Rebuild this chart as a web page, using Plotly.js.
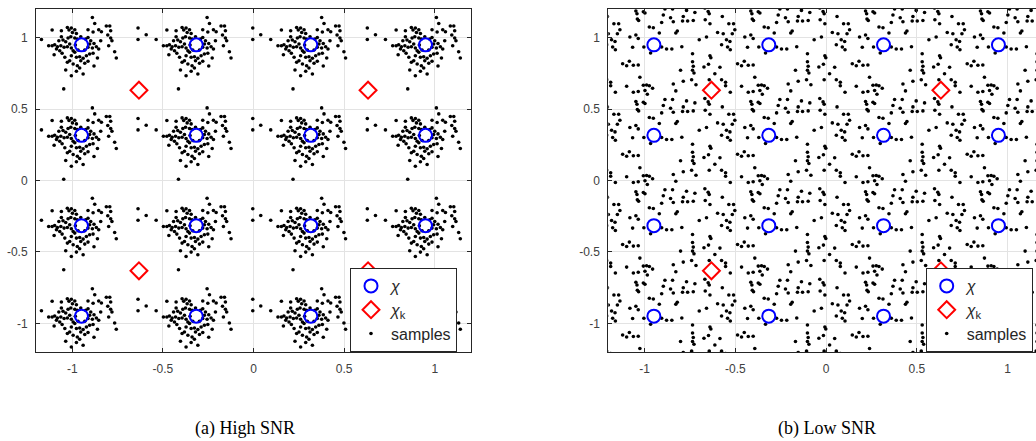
<!DOCTYPE html>
<html>
<head>
<meta charset="utf-8">
<script src="https://cdn.plot.ly/plotly-3.0.1.min.js"></script>
<style>
html,body{margin:0;padding:0;overflow:hidden;background:#fff;}
#chart{width:1044px;height:441px;}
</style>
</head>
<body>
<div id="chart"></div>
<script>
// 16-QAM constellation levels (chi) and the 4-point set levels (chi_k)
const chiLevels = [-0.949, -0.316, 0.316, 0.949];
const chiKLevels = [-0.632, 0.632];

// High SNR: received-sample offsets around each constellation point (read from one cluster)
const hiDx = [-0.098,0.060,0.073,-0.162,-0.111,-0.078,-0.069,-0.056,-0.037,-0.050,-0.028,0.036,0.064,0.095,0.110,0.137,0.156,0.161,0.145,0.161,0.168,0.312,0.312,-0.276,-0.221,-0.102,-0.087,-0.074,-0.059,-0.037,-0.023,-0.065,-0.056,-0.078,-0.096,-0.114,-0.133,-0.148,-0.162,-0.181,-0.138,-0.120,-0.151,-0.107,0.036,0.051,0.069,0.082,0.095,0.060,0.036,0.150,0.183,0.192,0.106,-0.037,-0.056,-0.028,-0.010,0.009,0.027,0.045,0.064,0.088,0.036,0.018,-0.004,-0.065,-0.046,-0.023,0.069,-0.087,-0.056,-0.028,-0.010,0.009,-0.078,-0.034,-0.019,0.018,0.045,0.023,-0.004,-0.046,-0.092,-0.125,-0.111];
const hiDy = [0.325,0.192,0.150,0.104,0.099,0.122,0.104,0.118,0.106,0.087,0.080,0.106,0.090,0.106,0.092,0.132,0.132,0.099,0.069,0.048,0.029,0.118,0.038,0.071,0.038,0.034,0.022,0.048,0.057,0.048,0.041,0.006,-0.022,-0.013,-0.017,-0.006,-0.013,0.001,-0.006,-0.006,-0.029,-0.041,-0.069,-0.059,0.052,0.029,0.010,-0.013,-0.029,-0.022,-0.017,-0.006,-0.048,-0.092,0.029,-0.052,-0.076,-0.087,-0.083,-0.094,-0.076,-0.064,-0.059,-0.092,-0.115,-0.129,-0.111,-0.111,-0.134,-0.146,-0.148,-0.176,-0.216,-0.185,-0.162,-0.204,-0.122,-0.001,-0.036,-0.036,0.006,0.041,0.057,-0.041,-0.087,0.029,0.057];

// Low SNR: received-sample offsets around each constellation point (read from one cell)
const loDx = [-0.212,-0.113,-0.086,-0.049,-0.036,0.121,-0.099,-0.093,-0.058,-0.049,0.061,0.103,0.052,0.180,0.226,0.281,0.299,0.305,-0.256,0.092,0.162,-0.220,-0.194,-0.187,-0.201,-0.091,-0.084,-0.025,-0.003,0.043,0.107,0.158,0.186,0.217,0.283,0.309,0.129,0.121,0.030,-0.282,-0.251,-0.132,-0.099,-0.086,-0.260,-0.233,-0.214,-0.227,-0.212,-0.117,-0.055,-0.018,0.043,0.070,0.099,0.154,0.250,0.290,0.309,0.213,-0.172,-0.135,-0.150,-0.113,-0.086,-0.269,-0.297,0.213,0.217,0.213,0.221,0.276,0.301,0.147,-0.077,-0.260,-0.238,-0.238,-0.150,-0.058,-0.040,-0.025,-0.007,0.107,0.162,0.208,0.232,0.305,0.314];
const loDy = [0.302,0.302,0.307,0.314,0.288,0.311,0.237,0.218,0.232,0.223,0.251,0.251,0.209,0.241,0.227,0.258,0.234,0.218,0.199,0.190,0.199,0.148,0.148,0.106,0.078,0.181,0.171,0.125,0.120,0.157,0.162,0.167,0.167,0.171,0.176,0.148,0.097,0.083,0.083,0.087,0.078,0.055,0.069,0.045,0.001,0.036,0.024,-0.015,-0.034,-0.017,-0.015,-0.057,-0.015,-0.029,-0.029,-0.013,0.036,0.055,-0.076,-0.062,-0.132,-0.115,-0.146,-0.143,-0.141,-0.157,-0.202,-0.118,-0.150,-0.178,-0.197,-0.155,-0.136,-0.178,-0.227,-0.244,-0.262,-0.286,-0.290,-0.283,-0.281,-0.286,-0.304,-0.274,-0.255,-0.244,-0.279,-0.244,-0.090];

const tickVals = [-1, -0.5, 0, 0.5, 1];
const tickText = ['-1', '-0.5', '0', '0.5', '1'];
const captions = ['(a) High SNR', '(b) Low SNR'];
const seriesNames = ['<i>\u03c7</i>', '<i>\u03c7</i><sub>k</sub>', 'samples'];

// build point sets
const chiX = [], chiY = [];
chiLevels.forEach(xv => chiLevels.forEach(yv => { chiX.push(xv); chiY.push(yv); }));
const chiKX = [], chiKY = [];
chiKLevels.forEach(xv => chiKLevels.forEach(yv => { chiKX.push(xv); chiKY.push(yv); }));
function samples(dx, dy) {
  const xs = [], ys = [];
  for (let i = 0; i < chiX.length; i++) {
    for (let j = 0; j < dx.length; j++) { xs.push(chiX[i] + dx[j]); ys.push(chiY[i] + dy[j]); }
  }
  return {xs, ys};
}
const hi = samples(hiDx, hiDy);
const lo = samples(loDx, loDy);

function makeTraces(xa, ya, lg, s) {
  return [
    {type:'scatter', mode:'markers', x:s.xs, y:s.ys, xaxis:xa, yaxis:ya, legend:lg, name:seriesNames[2], legendrank:3,
     marker:{color:'#000', size:3.6}, hoverinfo:'skip'},
    {type:'scatter', mode:'markers', x:chiX, y:chiY, xaxis:xa, yaxis:ya, legend:lg, name:seriesNames[0], legendrank:1,
     marker:{symbol:'circle-open', color:'#0000ff', size:13, line:{width:2, color:'#0000ff'}}},
    {type:'scatter', mode:'markers', x:chiKX, y:chiKY, xaxis:xa, yaxis:ya, legend:lg, name:seriesNames[1], legendrank:2,
     marker:{symbol:'diamond-open', color:'#ff0000', size:13, line:{width:2, color:'#ff0000'}}}
  ];
}

const data = [...makeTraces('x','y','legend',hi), ...makeTraces('x2','y2','legend2',lo)];

const W = 1044, H = 441;
const yDom = [(H-352)/H, (H-9)/H];
const tickFont = {family:'Liberation Sans, Arial, sans-serif', size:12, color:'#404040'};
function xAxis(dom, anchor) {
  return {domain:dom, anchor:anchor, range:[-1.2,1.2], tickvals:tickVals, ticktext:tickText,
    showgrid:true, gridcolor:'#e3e3e3', gridwidth:1, zeroline:false,
    showline:true, linecolor:'#262626', linewidth:1, mirror:'ticks',
    ticks:'inside', ticklen:4, tickcolor:'#262626', ticklabelstandoff:6,
    tickfont:tickFont, fixedrange:true};
}
function yAxis(anchor) {
  return {domain:yDom, anchor:anchor, range:[-1.2,1.2], tickvals:tickVals, ticktext:tickText,
    showgrid:true, gridcolor:'#e3e3e3', gridwidth:1, zeroline:false,
    showline:true, linecolor:'#262626', linewidth:1, mirror:'ticks',
    ticks:'inside', ticklen:4, tickcolor:'#262626', ticklabelstandoff:5,
    tickfont:tickFont, fixedrange:true};
}
function legendCfg(x) {
  return {x:x, y:(H-268)/H, xanchor:'left', yanchor:'top', bgcolor:'#ffffff', bordercolor:'#262626', borderwidth:1,
    font:{family:'Liberation Sans, Arial, sans-serif', size:16, color:'#262626'}, itemwidth:30, tracegroupgap:0};
}

const layout = {
  width:W, height:H, margin:{l:0, r:0, t:0, b:0}, paper_bgcolor:'#fff', plot_bgcolor:'#fff',
  xaxis: xAxis([36/W, 471/W], 'y'),
  yaxis: yAxis('x'),
  xaxis2: xAxis([608.3/W, 1044/W], 'y2'),
  yaxis2: yAxis('x2'),
  showlegend:true,
  legend: legendCfg(350/W),
  legend2: legendCfg(925.7/W),
  annotations: [
    {text:captions[0], x:245/W, y:(H-428)/H, xref:'paper', yref:'paper', showarrow:false, xanchor:'center', yanchor:'middle',
     font:{family:'Liberation Serif, Times New Roman, serif', size:18, color:'#000'}},
    {text:captions[1], x:827/W, y:(H-428)/H, xref:'paper', yref:'paper', showarrow:false, xanchor:'center', yanchor:'middle',
     font:{family:'Liberation Serif, Times New Roman, serif', size:18, color:'#000'}}
  ]
};

Plotly.newPlot('chart', data, layout, {displayModeBar:false, staticPlot:true});
</script>
</body>
</html>
